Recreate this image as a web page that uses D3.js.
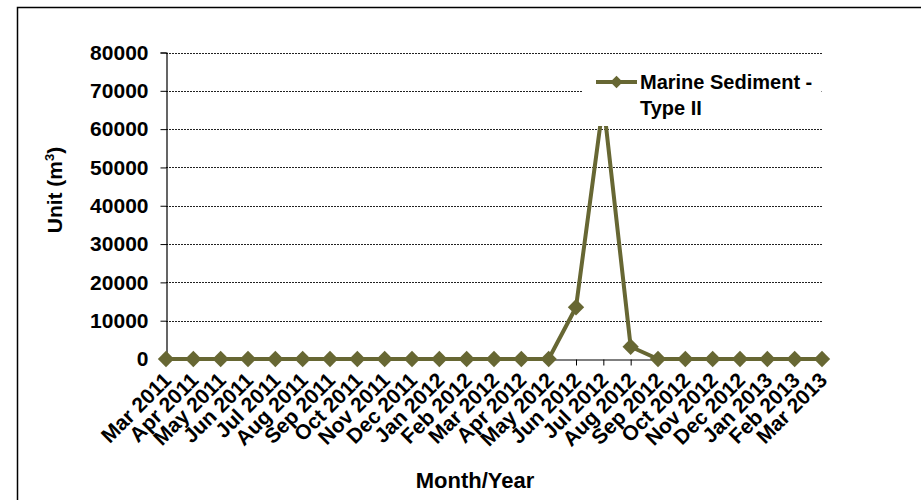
<!DOCTYPE html>
<html><head><meta charset="utf-8">
<script src="https://cdn.jsdelivr.net/npm/d3@7"></script>
<style>body{margin:0;background:#fff}svg{display:block}text{font-family:"Liberation Sans",Arial,sans-serif;font-weight:bold;fill:#000}</style>
</head><body>
<svg id="c" width="921" height="500"></svg>
<script>
const categories = ["Mar 2011","Apr 2011","May 2011","Jun 2011","Jul 2011","Aug 2011","Sep 2011","Oct 2011","Nov 2011","Dec 2011","Jan 2012","Feb 2012","Mar 2012","Apr 2012","May 2012","Jun 2012","Jul 2012","Aug 2012","Sep 2012","Oct 2012","Nov 2012","Dec 2012","Jan 2013","Feb 2013","Mar 2013"];
const marineSedimentTypeII = [0,0,0,0,0,0,0,0,0,0,0,0,0,0,0,13500,67000,3200,0,0,0,0,0,0,0];
const yTicks = [0,10000,20000,30000,40000,50000,60000,70000,80000];
const seriesName = ["Marine Sediment -","Type II"];
const color = "#676733";

const svg = d3.select("#c");
const x = d3.scalePoint().domain(categories).range([166, 822]);
const y = d3.scaleLinear().domain([0, 80000]).range([359, 52.5]);

// outer border
svg.append("rect").attr("x",17.5).attr("y",7.5).attr("width",1000).attr("height",1000)
  .attr("fill","none").attr("stroke","#000").attr("stroke-width",1.5);

// gridlines
svg.append("g").selectAll("line").data(yTicks.filter(d=>d>0)).join("line")
  .attr("x1",166).attr("x2",823).attr("y1",d=>Math.round(y(d))+0.5).attr("y2",d=>Math.round(y(d))+0.5)
  .attr("stroke","#222").attr("stroke-width",1).attr("stroke-dasharray","2,1");

// y axis
const ya = svg.append("g").attr("transform","translate(166.5,0)")
  .call(d3.axisLeft(y).tickValues(yTicks).tickSize(6).tickPadding(12).tickFormat(d3.format("d")));
ya.select(".domain").attr("stroke","#000").attr("stroke-width",1.2);
ya.selectAll(".tick line").attr("stroke","#000");
ya.selectAll("text").attr("font-size",21).attr("font-family","Liberation Sans, Arial, sans-serif").attr("font-weight","bold");

// x axis
const xa = svg.append("g").attr("transform","translate(0,359.5)")
  .call(d3.axisBottom(x).tickSize(6).tickSizeOuter(0));
xa.select(".domain").attr("stroke","#000").attr("stroke-width",1.2);
xa.selectAll(".tick line").attr("stroke","#000");
xa.selectAll("text").attr("font-size",21).attr("font-family","Liberation Sans, Arial, sans-serif").attr("font-weight","bold")
  .attr("text-anchor","end").attr("dy",0).attr("y",0)
  .attr("transform","translate(6,22) rotate(-45)");

// series line
const line = d3.line().x((d,i)=>x(categories[i])).y(d=>y(d));
svg.append("path").datum(marineSedimentTypeII).attr("d",line)
  .attr("fill","none").attr("stroke",color).attr("stroke-width",4).attr("stroke-linejoin","miter");
const diamond = d3.symbol().type(d3.symbolDiamond2).size(170);
svg.append("g").selectAll("path").data(marineSedimentTypeII).join("path")
  .attr("d",diamond).attr("fill",color)
  .attr("transform",(d,i)=>`translate(${x(categories[i])},${y(d)})`);

// legend
const lg = svg.append("g");
lg.append("rect").attr("x",583).attr("y",60).attr("width",238.5).attr("height",66).attr("fill","#fff");
lg.append("line").attr("x1",596).attr("x2",637).attr("y1",82).attr("y2",82).attr("stroke",color).attr("stroke-width",4);
lg.append("path").attr("d",d3.symbol().type(d3.symbolDiamond2).size(100)).attr("fill",color)
  .attr("transform","translate(616.5,82)");
lg.selectAll("text.l").data(seriesName).join("text").attr("class","l")
  .attr("x",640).attr("y",(d,i)=>89+i*26).attr("font-size",20).text(d=>d);

// axis titles
svg.append("text").attr("x",475).attr("y",488).attr("text-anchor","middle").attr("font-size",22).text("Month/Year");
const yt = svg.append("text").attr("transform","translate(62,190) rotate(-90)").attr("text-anchor","middle").attr("font-size",21);
yt.append("tspan").text("Unit (m");
yt.append("tspan").attr("font-size",13).attr("dy",-8).text("3");
yt.append("tspan").attr("dy",8).text(")");
</script>
</body></html>
